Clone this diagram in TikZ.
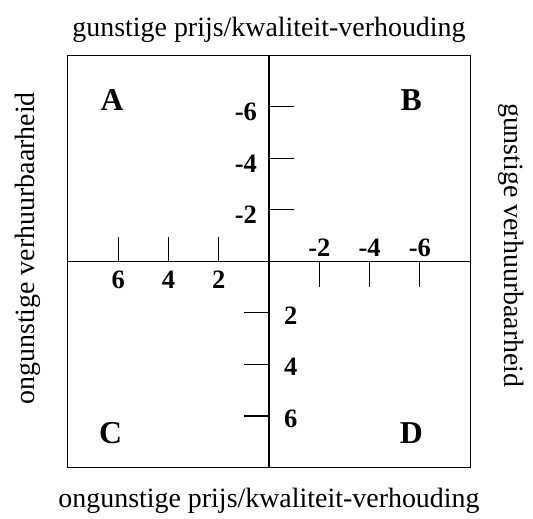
\documentclass[tikz,border=0pt]{standalone}
\usepackage{fontspec}
\setmainfont{Liberation Serif}
\usetikzlibrary{positioning}

\begin{document}
\begin{tikzpicture}[
                x=1cm, y=1.025cm,
                frame/.style={
                    draw,
                    line width=0.7pt
                },
                axis/.style={
                    line width=0.7pt
                },
                tickline/.style={
                    line width=0.7pt
                },
                quad/.style={font=\bfseries\fontsize{18}{20}\selectfont},
                num/.style={font=\bfseries\fontsize{15}{17}\selectfont, inner sep=1pt},
                side/.style={font=\fontsize{15.8}{18}\selectfont}
            ]
                \useasboundingbox (-5.35,-4.99) rectangle (5.25,5.07);

                \draw[frame] (-4,-4) rectangle (4,4);
                \coordinate (west) at (-4,0);
                \coordinate (east) at (4,0);
                \coordinate (north) at (0,4);
                \coordinate (south) at (0,-4);
                \draw[axis] (west) -- (east);
                \draw[axis] (north) -- (south);

                % ticks
                \foreach \k in {1,2,3} {
                    \draw[tickline] (-\k,0) -- (-\k,0.48);
                    \draw[tickline] (0,\k) -- (0.5,\k);
                    \draw[tickline] (\k,0) -- (\k,-0.5);
                    \draw[tickline] (0,-\k) -- (-0.5,-\k);
                }

                % schaalwaarden
                \foreach \k/\v in {1/2,2/4,3/6} {
                    \node[num, anchor=east] (lv\k) at (-0.2,\k-0.1) {-\v};
                    \node[num] (lh\k) at (\k,0.27) {-\v};
                    \node[num] (rh\k) at (-\k,-0.36) {\v};
                    \node[num] (rv\k) at (0.43,-\k-0.05) {\v};
                }

                % kwadranten
                \node[quad] (qa) at (-3.12,3.13) {A};
                \node[quad] (qb) at (2.83,3.13) {B};
                \node[quad] (qc) at (-3.15,-3.34) {C};
                \node[quad] (qd) at (2.83,-3.34) {D};

                % assen
                \node[side] (ptop) at (0,4.49) {gunstige prijs/kwaliteit-verhouding};
                \node[side] (pbot) at (0,-4.64) {ongunstige prijs/kwaliteit-verhouding};
                \node[side, rotate=90] (vleft) at (-4.8,0.25) {ongunstige verhuurbaarheid};
                \node[side, rotate=-90] (vright) at (4.82,0.31) {gunstige verhuurbaarheid};
            \end{tikzpicture}
\end{document}
